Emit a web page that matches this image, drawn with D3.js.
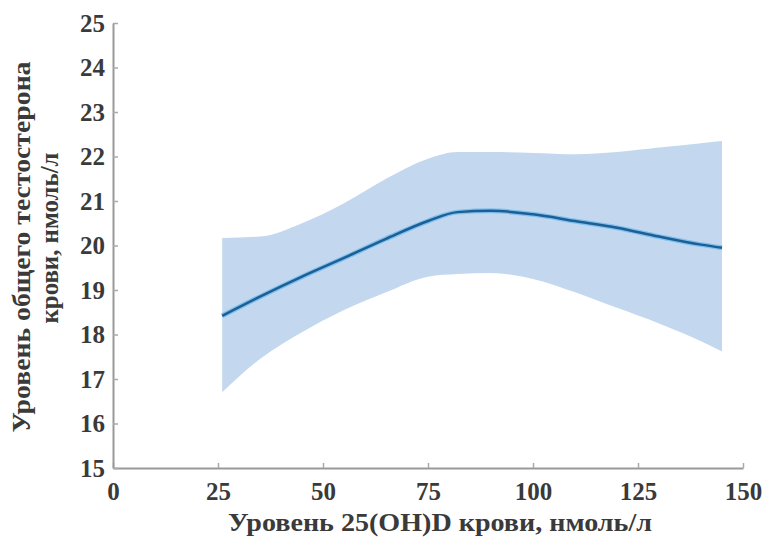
<!DOCTYPE html>
<html>
<head>
<meta charset="utf-8">
<script src="https://cdn.jsdelivr.net/npm/d3@7"></script>
<style>
  body { margin: 0; background: #fff; }
  text { font-family: "Liberation Serif", "DejaVu Serif", serif; }
</style>
</head>
<body>
<svg id="svg" width="772" height="550"></svg>
<script>
// values
const xVals     = [26, 35, 45, 55, 65, 75, 82, 90, 100, 110, 120, 130, 140, 145];
const meanVals  = [18.42, 18.85, 19.3, 19.72, 20.15, 20.55, 20.75, 20.78, 20.7, 20.55, 20.4, 20.2, 20.02, 19.95];
const upperVals = [20.17, 20.2, 20.5, 20.95, 21.5, 21.95, 22.1, 22.1, 22.08, 22.05, 22.1, 22.2, 22.3, 22.35];
const lowerVals = [16.7, 17.45, 18.05, 18.55, 18.95, 19.3, 19.36, 19.38, 19.25, 18.95, 18.6, 18.25, 17.85, 17.62];
const xTicks = [0, 25, 50, 75, 100, 125, 150];
const yTicks = [15, 16, 17, 18, 19, 20, 21, 22, 23, 24, 25];

const data = xVals.map((x, i) => ({x: x, m: meanVals[i], hi: upperVals[i], lo: lowerVals[i]}));

const svg = d3.select('#svg');

const xScale = d3.scaleLinear().domain([0, 150]).range([113, 743]);
const yScale = d3.scaleLinear().domain([15, 25]).range([468, 23]);

// band
const area = d3.area()
  .x(d => xScale(d.x))
  .y0(d => yScale(d.lo))
  .y1(d => yScale(d.hi))
  .curve(d3.curveMonotoneX);

svg.append('path')
  .datum(data)
  .attr('d', area)
  .attr('fill', '#c3d8ef');

const line = d3.line()
  .x(d => xScale(d.x))
  .y(d => yScale(d.m))
  .curve(d3.curveMonotoneX);

// light halo then dark line
svg.append('path')
  .datum(data)
  .attr('d', line)
  .attr('fill', 'none')
  .attr('stroke', '#7fc0ee')
  .attr('stroke-width', 5);

svg.append('path')
  .datum(data)
  .attr('d', line)
  .attr('fill', 'none')
  .attr('stroke', '#1d5f95')
  .attr('stroke-width', 2.5);

// axes
const xAxis = d3.axisBottom(xScale)
  .tickValues(xTicks)
  .tickSizeInner(-5)
  .tickSizeOuter(0)
  .tickPadding(14);

const yAxis = d3.axisLeft(yScale)
  .tickValues(yTicks)
  .tickSizeInner(-5)
  .tickSizeOuter(0)
  .tickPadding(8);

const xAxisG = svg.append('g')
  .attr('transform', `translate(0,${yScale(15)})`)
  .call(xAxis);

const yAxisG = svg.append('g')
  .attr('transform', `translate(${xScale(0)},0)`)
  .call(yAxis);

[xAxisG, yAxisG].forEach(g => {
  g.select('path.domain').attr('stroke', '#999').attr('stroke-width', 2);
  g.selectAll('.tick line').attr('stroke', '#aaa').attr('stroke-width', 1.5);
  g.selectAll('.tick text')
    .style('font-family', '"Liberation Serif", serif')
    .style('font-size', '25px')
    .style('font-weight', 'bold')
    .attr('fill', '#3a3a3a');
});

// axis titles
svg.append('text')
  .attr('x', 440)
  .attr('y', 531)
  .attr('text-anchor', 'middle')
  .attr('textLength', 424)
  .attr('lengthAdjust', 'spacingAndGlyphs')
  .style('font-size', '25px')
  .style('font-weight', 'bold')
  .attr('fill', '#3a3a3a')
  .text('Уровень 25(OH)D крови, нмоль/л');

const yTitle = svg.append('g')
  .attr('transform', 'translate(0,0) rotate(-90)')
  .style('font-size', '25px')
  .style('font-weight', 'bold')
  .attr('fill', '#3a3a3a');

yTitle.append('text')
  .attr('x', -247).attr('y', 30)
  .attr('text-anchor', 'middle')
  .attr('textLength', 371)
  .attr('lengthAdjust', 'spacingAndGlyphs')
  .text('Уровень общего тестостерона');

yTitle.append('text')
  .attr('x', -238).attr('y', 58)
  .attr('text-anchor', 'middle')
  .attr('textLength', 171)
  .attr('lengthAdjust', 'spacingAndGlyphs')
  .text('крови, нмоль/л');
</script>
</body>
</html>
